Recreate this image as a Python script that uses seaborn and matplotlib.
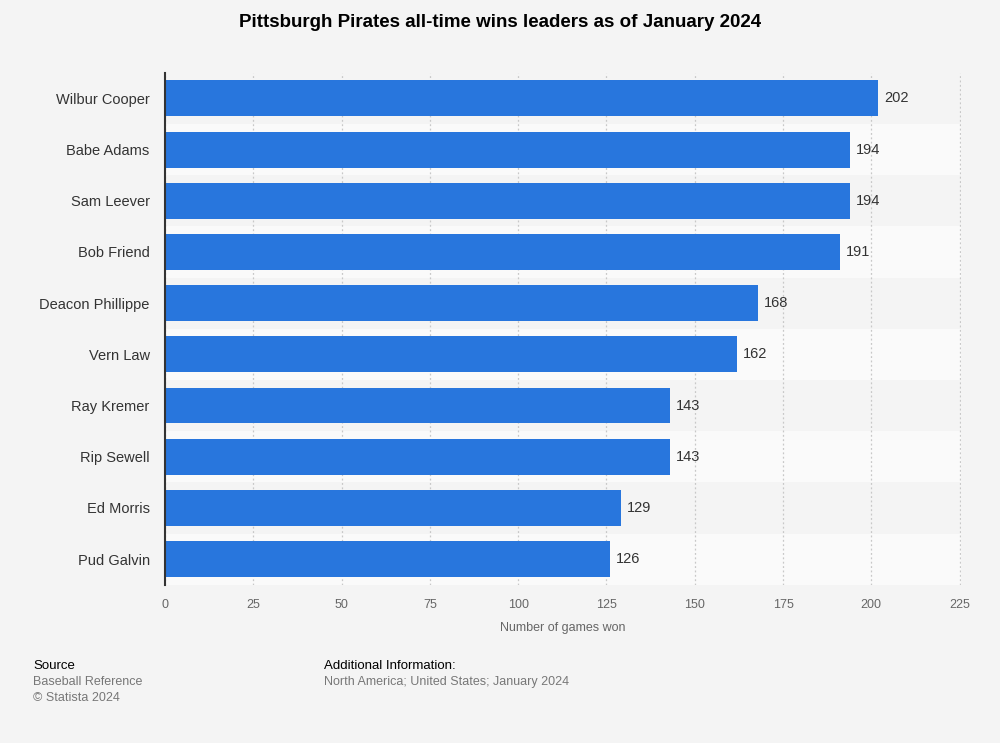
import matplotlib.pyplot as plt
import seaborn as sns
import pandas as pd

sns.set_theme(style="white")
plt.rcParams['font.family'] = ['Liberation Sans', 'DejaVu Sans']

players = ["Wilbur Cooper", "Babe Adams", "Sam Leever", "Bob Friend", "Deacon Phillippe",
           "Vern Law", "Ray Kremer", "Rip Sewell", "Ed Morris", "Pud Galvin"]
wins = [202, 194, 194, 191, 168, 162, 143, 143, 129, 126]
x_ticks = [0, 25, 50, 75, 100, 125, 150, 175, 200, 225]

df = pd.DataFrame({"player": players, "wins": wins})

bg = "#f4f4f4"
fig = plt.figure(figsize=(10, 7.43), dpi=100, facecolor=bg)
ax = fig.add_axes([0.165, 0.213, 0.796, 0.689])
ax.set_facecolor(bg)

# alternating row bands
for i in range(len(players)):
    if i % 2 == 1:
        ax.axhspan(i - 0.5, i + 0.5, color="#fafafa", zorder=0, linewidth=0)

sns.barplot(data=df, x="wins", y="player", orient="h", color="#2876dd",
            width=0.7, saturation=1, linewidth=0, ax=ax, zorder=3)

for i, v in enumerate(wins):
    ax.text(v + 1.7, i, str(v), va="center", ha="left", fontsize=10.5, color="#333333", zorder=4)

ax.set_xlim(0, 225.4)
ax.set_ylim(len(players) - 0.5, -0.5)
ax.set_xticks(x_ticks)
ax.xaxis.grid(True, linestyle=(0, (1.5, 2)), color="#c8c8c8", linewidth=0.9, zorder=1)
ax.set_axisbelow(True)
for s in ["top", "right", "bottom"]:
    ax.spines[s].set_visible(False)
ax.spines["left"].set_color("#333333")
ax.spines["left"].set_linewidth(1.5)
ax.spines["left"].set_zorder(6)
ax.tick_params(axis="x", length=0, labelsize=9, colors="#666666", pad=10)
ax.tick_params(axis="y", length=0, labelsize=10.5, colors="#333333", pad=11)
ax.set_ylabel("")
ax.set_xlabel("Number of games won", fontsize=9, color="#666666", labelpad=8)

fig.text(0.5, 0.97, "Pittsburgh Pirates all-time wins leaders as of January 2024",
         ha="center", va="center", fontsize=13.5, fontweight="bold", color="#000000")

fig.text(0.033, 0.104, "Source", fontsize=9.5, color="#000000", va="center")
fig.text(0.033, 0.082, "Baseball Reference", fontsize=9, color="#777777", va="center")
fig.text(0.033, 0.061, "© Statista 2024", fontsize=9, color="#777777", va="center")
fig.text(0.324, 0.104, "Additional Information:", fontsize=9.5, color="#000000", va="center")
fig.text(0.324, 0.082, "North America; United States; January 2024", fontsize=9,
         color="#777777", va="center")

fig.savefig("out.png", dpi=100, facecolor=bg)
